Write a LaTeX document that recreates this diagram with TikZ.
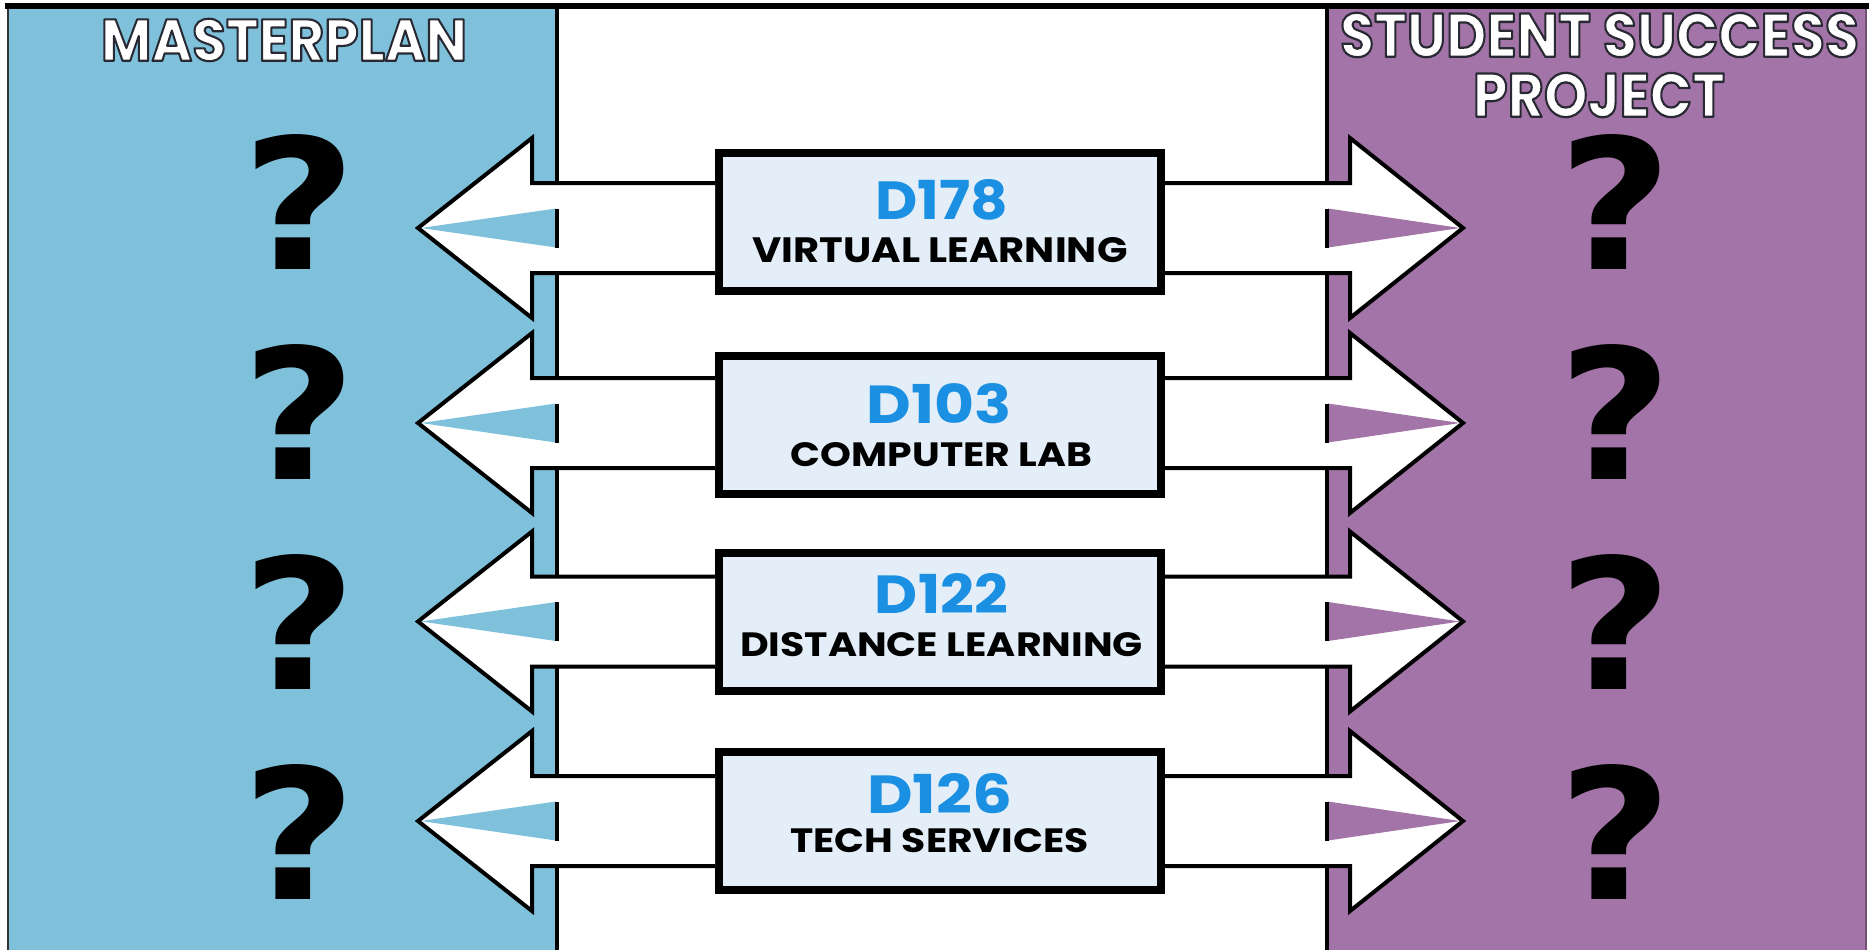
\documentclass[tikz,border=0pt]{standalone}
\usepackage{fontspec}
\setmainfont{Poppins}
\newfontfamily\qfont{DejaVu Sans}
\usetikzlibrary{calc}
\definecolor{mpblue}{RGB}{127,193,219}
\definecolor{sspurple}{RGB}{163,116,167}
\definecolor{boxfill}{RGB}{227,238,248}
\definecolor{numblue}{RGB}{27,144,226}
\newcommand\fitto[3]{\resizebox{#1pt}{#2pt}{#3}}
% white letters with a dark outline (text render mode 2: fill + stroke)
\newcommand\outlinetext[1]{\special{pdf:literal 0.16 0.16 0.2 RG 2.2 w 1 j 2 Tr}#1\special{pdf:literal 0 Tr}}
\begin{document}
\begin{tikzpicture}[x=1pt,y=-1pt,
  roombox/.style={draw=black,line width=8pt,fill=boxfill,minimum width=442pt,minimum height=138pt,inner sep=0pt},
  lbl/.style={inner sep=0pt,outer sep=0pt},
  hdr/.style={inner sep=0pt,outer sep=0pt,text=white,font=\fontsize{60}{60}\selectfont\bfseries},
  arrowbody/.style={fill=white,draw=black,line width=4pt,line join=miter},
  qmark/.style={inner sep=0pt,outer sep=0pt,font=\qfont\bfseries},
  edge/.style={draw=black,line width=4pt},
]
\useasboundingbox (0,0) rectangle (1871,950);
\fill[white] (0,0) rectangle (1871,950);
% panels
\fill[mpblue] (8,6) rectangle (557,950);
\fill[sspurple] (1327,6) rectangle (1866,950);
\draw[edge] (557,6) -- (557,950);
\draw[edge] (1327,6) -- (1327,950);
\draw[line width=1.5pt,black!80] (8,6) -- (8,950);
\draw[line width=1.5pt,sspurple!70!black] (1866,6) -- (1866,950);
\draw[line width=6pt] (5,6) -- (1869,6);
% boxes
\node[roombox] (b1) at (940,222) {};
\node[roombox] (b2) at (940,425) {};
\node[roombox] (b3) at (940,622) {};
\node[roombox] (b4) at (940,821) {};
% arrows
\foreach \b/\c in {b1/228,b2/423,b3/621.5,b4/821}{
  \coordinate (tipL-\b) at (418,\c);
  \coordinate (tipR-\b) at (1463,\c);
  \filldraw[arrowbody] (\b.west |- 532,\c-45) -- (532,\c-45) -- (532,\c-90) -- (tipL-\b) -- (532,\c+90) -- (532,\c+45) -- (\b.west |- 532,\c+45);
  \fill[mpblue] (421,\c) -- (556,\c-19.5) -- (556,\c+19.5) -- cycle;
  \draw[edge] (557,\c-19.5) -- (557,\c+19.5);
  \filldraw[arrowbody] (\b.east |- 1350,\c-45) -- (1350,\c-45) -- (1350,\c-90) -- (tipR-\b) -- (1350,\c+90) -- (1350,\c+45) -- (\b.east |- 1350,\c+45);
  \fill[sspurple] (1460,\c) -- (1328,\c-19.5) -- (1328,\c+19.5) -- cycle;
  \draw[edge] (1327,\c-19.5) -- (1327,\c+19.5);
}
% labels
\node[lbl,text=numblue] (n1) at ($(b1.center)+(1.5,-22)$) {\fitto{133}{40}{\bfseries D178}};
\node[lbl] (t1) at ($(b1.center)+(0,28.5)$) {\fitto{375}{25}{\bfseries VIRTUAL LEARNING}};
\node[lbl,text=numblue] (n2) at ($(b2.center)+(-0.5,-21)$) {\fitto{145}{40}{\bfseries D103}};
\node[lbl] (t2) at ($(b2.center)+(1.5,30)$) {\fitto{301}{24}{\bfseries COMPUTER LAB}};
\node[lbl,text=numblue] (n3) at ($(b3.center)+(1.5,-29)$) {\fitto{133}{40}{\bfseries D122}};
\node[lbl] (t3) at ($(b3.center)+(1.5,23)$) {\fitto{403}{24}{\bfseries DISTANCE LEARNING}};
\node[lbl,text=numblue] (n4) at ($(b4.center)+(-0.5,-27.5)$) {\fitto{145}{40}{\bfseries D126}};
\node[lbl] (t4) at ($(b4.center)+(-0.5,20)$) {\fitto{298}{24}{\bfseries TECH SERVICES}};
% question marks
\foreach \i/\y in {1/202,2/412,3/622,4/832}{
  \node[qmark] (qL\i) at (300,\y) {\fitto{114}{135}{?}};
  \node[qmark] (qR\i) at (1616,\y) {\fitto{114}{135}{?}};
}
% headers
\node[hdr] (hL) at (284,40) {\fitto{366}{42}{\outlinetext{MASTERPLAN}}};
\node[hdr] (hR1) at (1599.5,35) {\fitto{519}{44}{\outlinetext{STUDENT SUCCESS}}};
\node[hdr] (hR2) at (1599,95) {\fitto{252}{44}{\outlinetext{PROJECT}}};
\end{tikzpicture}
\end{document}
